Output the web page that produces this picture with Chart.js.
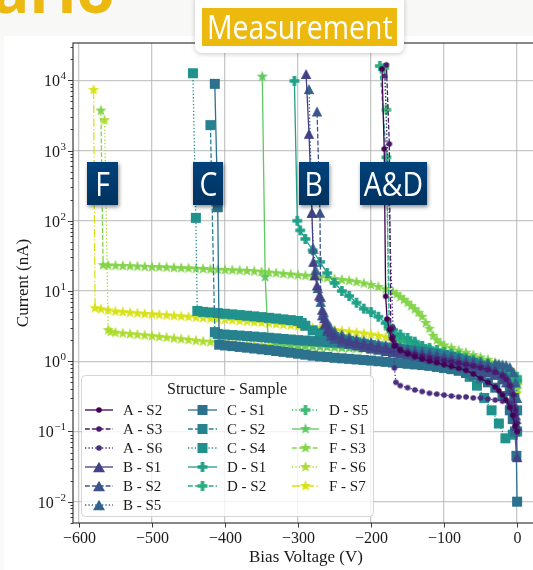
<!DOCTYPE html>
<html>
<head>
<meta charset="utf-8">
<title>Bias scan per structure</title>
<script src="https://cdn.jsdelivr.net/npm/chart.js@4.4.1/dist/chart.umd.min.js"></script>
<style>
  html, body { margin: 0; padding: 0; }
  body { width: 533px; height: 570px; overflow: hidden; background: #f8f8f6; position: relative; font-family: "Open Sans", sans-serif; }
  .title-frag { position: absolute; left: -8px; top: -42px; font-size: 62px; line-height: 62px; font-weight: 700; color: #ebb90f; white-space: nowrap; }
  .panel { position: absolute; left: 4px; top: 36px; width: 620px; height: 600px; background: #fff; }
  #ivChart { position: absolute; left: 0; top: 0; }
  .measure-card { position: absolute; left: 195px; top: -6px; width: 209px; height: 59px; background: #fff; border-radius: 7px; box-shadow: 0 1px 5px rgba(0,0,0,0.22); }
  .measure { position: absolute; left: 7px; top: 13.5px; width: 195px; height: 38px; background: #ecb90f; color: #fff; font-size: 33px; line-height: 38px; white-space: nowrap; display: flex; justify-content: center; }
  .tag { position: absolute; top: 162px; height: 43px; background: linear-gradient(#00427b, #00325f); color: #fff; font-size: 33px; line-height: 43px; box-shadow: 1px 2px 4px rgba(0,0,0,0.45); white-space: nowrap; display: flex; justify-content: center; }
  .squeeze { display: block; flex: none; transform: scaleX(0.86); }
</style>
</head>
<body>
<div class="title-frag">ario</div>
<div class="panel"></div>
<canvas id="ivChart" width="620" height="570"></canvas>
<div class="measure-card"><div class="measure"><span class="squeeze">Measurement</span></div></div>
<div class="tag" style="left:87px;width:31px"><span class="squeeze">F</span></div>
<div class="tag" style="left:193px;width:30px"><span class="squeeze">C</span></div>
<div class="tag" style="left:299px;width:30px"><span class="squeeze">B</span></div>
<div class="tag" style="left:360px;width:67px"><span class="squeeze">A&amp;D</span></div>
<script>
// [bias voltage (V), current (nA)], in measurement order from 0 V
const aS2 = [[0,0.1],[-3,0.12],[-6,0.17],[-10,0.22],[-15,0.28],[-20,0.33],[-25,0.38],[-30,0.43],[-40,0.5],[-50,0.57],[-60,0.66],[-70,0.74],[-80,0.79],[-90,0.84],[-100,0.89],[-110,0.95],[-120,1.0],[-130,1.07],[-140,1.16],[-150,1.27],[-160,1.42],[-168,1.65],[-172,2.1],[-175,2.8],[-178,4.0],[-180,8.4],[-182,1050],[-185,14500]];
const aS3 = [[0,0.13],[-2,0.2],[-5,0.33],[-10,0.45],[-15,0.55],[-20,0.62],[-30,0.7],[-40,0.76],[-50,0.81],[-60,0.86],[-70,0.9],[-80,0.94],[-90,0.98],[-100,1.02],[-110,1.07],[-120,1.12],[-130,1.18],[-140,1.25],[-150,1.34],[-160,1.48],[-166,1.7],[-170,2.2],[-173,2.9],[-175,1240],[-179,16600]];
const aS6 = [[0,0.1],[-2,0.17],[-5,0.22],[-10,0.25],[-20,0.27],[-30,0.28],[-40,0.29],[-50,0.3],[-60,0.3],[-70,0.31],[-80,0.31],[-90,0.32],[-100,0.33],[-110,0.34],[-120,0.35],[-130,0.37],[-140,0.39],[-150,0.42],[-160,0.45],[-166,0.5],[-168,0.8],[-169,1.9],[-170,3.0],[-181,11500]];
const bS1 = [[0,0.043],[-1,0.12],[-2,0.17],[-4,0.25],[-7,0.38],[-10,0.5],[-15,0.6],[-20,0.67],[-30,0.75],[-40,0.82],[-50,0.87],[-60,0.92],[-70,0.97],[-80,1.02],[-90,1.07],[-100,1.12],[-110,1.17],[-120,1.22],[-130,1.27],[-140,1.32],[-150,1.37],[-160,1.42],[-170,1.48],[-180,1.54],[-190,1.6],[-200,1.67],[-210,1.75],[-220,1.84],[-230,1.95],[-240,2.1],[-250,2.35],[-255,2.6],[-259,2.9],[-262,3.5],[-264,4.1],[-267,5.4],[-271,8.6],[-274,12],[-277,16.7],[-279,26],[-281,130],[-285,1730],[-289,12300]];
const bS2 = [[0,0.12],[-1,0.15],[-3,0.2],[-6,0.3],[-10,0.4],[-15,0.5],[-20,0.56],[-30,0.64],[-40,0.7],[-50,0.75],[-60,0.8],[-70,0.85],[-80,0.9],[-90,0.95],[-100,1.0],[-110,1.05],[-120,1.1],[-130,1.15],[-140,1.2],[-150,1.25],[-160,1.3],[-170,1.35],[-180,1.4],[-190,1.46],[-200,1.52],[-210,1.6],[-220,1.68],[-230,1.78],[-240,1.9],[-250,2.1],[-255,2.3],[-260,2.7],[-264,3.3],[-267,4.5],[-269,8.2],[-270,130],[-274,3600]];
const bS5 = [[0,0.3],[-2,0.5],[-5,0.7],[-10,0.83],[-15,0.88],[-20,0.9],[-25,0.92],[-30,0.93],[-40,0.95],[-50,0.98],[-60,1.02],[-70,1.07],[-80,1.12],[-90,1.17],[-100,1.22],[-110,1.28],[-120,1.34],[-130,1.4],[-140,1.46],[-150,1.52],[-160,1.58],[-170,1.65],[-180,1.72],[-190,1.8],[-200,1.88],[-210,1.97],[-220,2.08],[-230,2.22],[-240,2.4],[-250,2.7],[-256,3.1],[-261,3.8],[-265,5],[-269,7],[-273,11],[-276,20],[-279,40],[-281,130],[-285,7500]];
const cS1 = [[0,0.01],[-1,0.045],[-3,0.1],[-6,0.15],[-10,0.2],[-20,0.32],[-30,0.42],[-40,0.5],[-50,0.57],[-60,0.63],[-70,0.68],[-80,0.73],[-90,0.77],[-100,0.8],[-110,0.83],[-120,0.86],[-130,0.88],[-140,0.9],[-150,0.92],[-160,0.94],[-170,0.96],[-180,0.98],[-190,1.0],[-200,1.02],[-210,1.04],[-220,1.06],[-230,1.08],[-240,1.1],[-250,1.12],[-260,1.15],[-270,1.17],[-280,1.2],[-290,1.24],[-300,1.28],[-310,1.32],[-320,1.36],[-330,1.4],[-340,1.44],[-350,1.48],[-360,1.52],[-370,1.56],[-380,1.6],[-390,1.64],[-400,1.68],[-408,1.72],[-410,156],[-414,8900]];
const cS2 = [[0,0.2],[-4,0.3],[-10,0.4],[-20,0.55],[-30,0.68],[-40,0.78],[-50,0.86],[-60,0.95],[-70,1.02],[-80,1.1],[-90,1.16],[-100,1.22],[-110,1.27],[-120,1.32],[-130,1.37],[-140,1.41],[-150,1.45],[-160,1.49],[-170,1.53],[-180,1.57],[-190,1.61],[-200,1.65],[-210,1.69],[-220,1.73],[-230,1.77],[-240,1.8],[-250,1.84],[-260,1.87],[-270,1.9],[-280,1.94],[-290,1.97],[-300,2.0],[-310,2.04],[-320,2.08],[-330,2.12],[-340,2.16],[-350,2.2],[-360,2.24],[-370,2.28],[-380,2.32],[-390,2.36],[-400,2.4],[-410,2.45],[-414,2.6],[-420,2300]];
const cS4 = [[0,0.1],[-6,0.09],[-16,0.08],[-25,0.13],[-35,0.2],[-45,0.3],[-55,0.45],[-65,0.6],[-75,0.75],[-85,0.85],[-100,0.95],[-110,1.02],[-120,1.08],[-130,1.15],[-140,1.22],[-150,1.3],[-160,1.38],[-170,1.46],[-180,1.54],[-190,1.62],[-200,1.7],[-210,1.78],[-220,1.86],[-230,1.95],[-240,2.05],[-250,2.18],[-260,2.32],[-270,2.5],[-280,2.75],[-290,3.2],[-295,3.5],[-300,3.75],[-310,3.85],[-320,3.95],[-330,4.05],[-340,4.15],[-350,4.25],[-360,4.35],[-370,4.45],[-380,4.55],[-390,4.65],[-400,4.75],[-410,4.85],[-420,4.95],[-430,5.05],[-438,5.2],[-440,110],[-444,12600]];
const dS1 = [[0,0.54],[-10,0.62],[-20,0.68],[-30,0.76],[-40,0.84],[-50,0.9],[-60,0.97],[-70,1.04],[-80,1.1],[-90,1.18],[-100,1.25],[-110,1.32],[-120,1.45],[-130,1.65],[-140,1.9],[-150,2.15],[-160,2.4],[-170,2.8],[-180,3.5],[-190,4.3],[-200,5.0],[-210,5.6],[-220,6.8],[-230,8.5],[-240,10],[-250,13],[-260,18],[-270,26],[-280,38],[-290,55],[-297,73],[-301,100],[-305,9800]];
const dS2 = [[0,0.6],[-10,0.7],[-20,0.78],[-30,0.85],[-40,0.92],[-50,0.98],[-60,1.05],[-70,1.12],[-80,1.2],[-90,1.28],[-100,1.36],[-110,1.45],[-120,1.55],[-130,1.65],[-140,1.78],[-150,1.92],[-160,2.1],[-170,2.45],[-175,3.2],[-179,800],[-188,16000]];
const dS5 = [[0,0.5],[-10,0.66],[-20,0.75],[-30,0.82],[-40,0.88],[-50,0.94],[-60,1.0],[-70,1.07],[-80,1.14],[-90,1.22],[-100,1.3],[-110,1.38],[-120,1.47],[-130,1.57],[-140,1.68],[-150,1.8],[-160,1.97],[-170,2.3],[-176,2.9],[-179,3800],[-182,15000]];
const fS1 = [[0,0.5],[-10,0.62],[-20,0.72],[-30,0.8],[-40,0.86],[-50,0.92],[-60,0.97],[-70,1.02],[-80,1.07],[-90,1.11],[-100,1.15],[-110,1.19],[-120,1.23],[-130,1.27],[-140,1.3],[-150,1.33],[-160,1.36],[-170,1.39],[-180,1.42],[-190,1.45],[-200,1.47],[-210,1.5],[-220,1.52],[-230,1.54],[-240,1.56],[-250,1.58],[-260,1.6],[-270,1.62],[-280,1.64],[-290,1.66],[-300,1.68],[-310,1.7],[-320,1.72],[-330,1.75],[-341,2.1],[-345,15.8],[-349,11300]];
const fS3 = [[0,0.4],[-5,0.6],[-10,0.72],[-20,0.85],[-30,0.95],[-40,1.05],[-50,1.13],[-60,1.22],[-70,1.32],[-80,1.42],[-90,1.55],[-100,1.68],[-105,1.8],[-110,2.0],[-115,2.3],[-120,2.9],[-125,3.5],[-130,4.3],[-135,4.9],[-140,5.5],[-145,6.1],[-150,6.8],[-155,7.5],[-160,8.2],[-165,9.0],[-170,9.7],[-180,10.6],[-190,11.4],[-200,12.2],[-210,12.8],[-220,13.4],[-230,14],[-240,14.4],[-250,14.8],[-260,15.3],[-270,15.8],[-280,16.2],[-290,16.5],[-300,16.8],[-310,17.2],[-320,17.5],[-330,17.9],[-340,18.3],[-350,18.7],[-360,19],[-370,19.3],[-380,19.5],[-390,19.7],[-400,19.9],[-410,20.1],[-420,20.3],[-430,20.6],[-440,20.8],[-450,21],[-460,21.2],[-470,21.4],[-480,21.6],[-490,21.8],[-500,21.9],[-510,22.1],[-520,22.3],[-530,22.5],[-540,22.7],[-550,22.9],[-560,23.1],[-567,23.3],[-570,3700]];
const fS6 = [[0,0.45],[-5,0.65],[-10,0.75],[-20,0.85],[-30,0.92],[-40,0.98],[-50,1.03],[-60,1.08],[-70,1.12],[-80,1.16],[-90,1.2],[-100,1.23],[-110,1.26],[-120,1.29],[-130,1.32],[-140,1.35],[-150,1.38],[-160,1.4],[-170,1.43],[-180,1.45],[-190,1.47],[-200,1.49],[-210,1.51],[-220,1.53],[-230,1.55],[-240,1.56],[-250,1.58],[-260,1.59],[-270,1.6],[-280,1.61],[-290,1.62],[-300,1.63],[-310,1.64],[-320,1.65],[-330,1.66],[-340,1.67],[-350,1.68],[-360,1.7],[-370,1.72],[-380,1.74],[-390,1.77],[-400,1.8],[-410,1.83],[-420,1.87],[-430,1.91],[-440,1.96],[-450,2.01],[-460,2.06],[-470,2.11],[-480,2.17],[-490,2.22],[-500,2.28],[-510,2.33],[-520,2.38],[-530,2.43],[-540,2.49],[-550,2.55],[-557,2.62],[-560,2.78],[-565,2700]];
const fS7 = [[0,0.35],[-5,0.45],[-10,0.55],[-20,0.66],[-30,0.74],[-40,0.8],[-50,0.86],[-60,0.92],[-70,0.98],[-80,1.05],[-90,1.12],[-100,1.2],[-110,1.3],[-120,1.4],[-130,1.5],[-140,1.65],[-150,1.8],[-160,1.95],[-170,2.1],[-180,2.2],[-190,2.3],[-200,2.4],[-210,2.48],[-220,2.55],[-230,2.63],[-240,2.7],[-250,2.78],[-260,2.85],[-270,2.93],[-280,3.0],[-290,3.08],[-300,3.15],[-310,3.23],[-320,3.3],[-330,3.38],[-340,3.45],[-350,3.53],[-360,3.6],[-370,3.68],[-380,3.75],[-390,3.83],[-400,3.9],[-410,3.98],[-420,4.05],[-430,4.13],[-440,4.2],[-450,4.28],[-460,4.35],[-470,4.43],[-480,4.5],[-490,4.58],[-500,4.65],[-510,4.72],[-520,4.8],[-530,4.9],[-540,5.0],[-550,5.1],[-560,5.3],[-570,5.5],[-578,5.7],[-580,7300]];

const seriesNames = ["A - S2", "A - S3", "A - S6", "B - S1", "B - S2", "B - S5", "C - S1", "C - S2", "C - S4", "D - S1", "D - S2", "D - S5", "F - S1", "F - S3", "F - S6", "F - S7"];
const seriesData = [aS2, aS3, aS6, bS1, bS2, bS5, cS1, cS2, cS4, dS1, dS2, dS5, fS1, fS3, fS6, fS7];
const xTicks = [-600, -500, -400, -300, -200, -100, 0];
const yDecades = [-2, -1, 0, 1, 2, 3, 4];

// viridis, 16 steps
const seriesColors = ["#440154", "#48186a", "#472d7b", "#424086", "#3b528b", "#33638d", "#2c728e", "#26828e",
  "#21918c", "#1fa088", "#28ae80", "#3fbc73", "#5ec962", "#84d44b", "#addc30", "#d8e219"];
const seriesLine = ["solid", "dashed", "dotted", "solid", "dashed", "dotted", "solid", "dashed", "dotted",
  "solid", "dashed", "dotted", "solid", "dashed", "dotted", "dashdot"];
const structureMarker = { A: "circle", B: "triangle", C: "square", D: "plus", F: "star" };
const dashStyles = { solid: [], dashed: [4.8, 2.1], dotted: [1.3, 2.1], dashdot: [8.3, 2.1, 1.3, 2.1] };

const serif = '"Liberation Serif", "DejaVu Serif", serif';
const inkColor = "#1a1a1a";

// filled matplotlib-like markers as small canvases
function makeMarker(shape, color, big) {
  const c = document.createElement("canvas");
  c.width = 14; c.height = 14;
  const g = c.getContext("2d");
  const m = 7;
  g.fillStyle = color;
  g.beginPath();
  if (shape === "circle") {
    g.arc(m, m, 2.8, 0, Math.PI * 2);
  } else if (shape === "triangle") {
    const hw = big ? 6 : 5.2, hh = big ? 5.2 : 5;
    g.moveTo(m, m - hh); g.lineTo(m + hw, m + hh); g.lineTo(m - hw, m + hh); g.closePath();
  } else if (shape === "square") {
    g.rect(m - 5, m - 5, 10, 10);
  } else if (shape === "plus") {
    const a = 4.9, b = 1.8;
    const pts = [[-b, -a], [b, -a], [b, -b], [a, -b], [a, b], [b, b], [b, a], [-b, a], [-b, b], [-a, b], [-a, -b], [-b, -b]];
    pts.forEach(([dx, dy], k) => (k ? g.lineTo(m + dx, m + dy) : g.moveTo(m + dx, m + dy)));
    g.closePath();
  } else {
    for (let k = 0; k < 10; k++) {
      const r = k % 2 ? 2.4 : 6;
      const ang = -Math.PI / 2 + (k * Math.PI) / 5;
      g.lineTo(m + r * Math.cos(ang), m + r * Math.sin(ang));
    }
    g.closePath();
  }
  g.fill();
  return c;
}

const plotMarkers = seriesNames.map((n, i) => makeMarker(structureMarker[n[0]], seriesColors[i], false));
const legendMarkers = seriesNames.map((n, i) => makeMarker(structureMarker[n[0]], seriesColors[i], true));

// spines, ticks, tick labels and axis titles in matplotlib style
const axesPlugin = {
  id: "mplAxes",
  afterDatasetsDraw(chart) {
    const { ctx, chartArea: a, scales: { x, y } } = chart;
    ctx.save();
    ctx.strokeStyle = "#3a3a3a";
    ctx.lineWidth = 1.2;
    ctx.strokeRect(a.left, a.top, a.right - a.left, a.bottom - a.top);

    ctx.lineWidth = 1;
    ctx.fillStyle = inkColor;
    ctx.textBaseline = "alphabetic";

    // x ticks
    ctx.font = "16px " + serif;
    ctx.textAlign = "center";
    xTicks.forEach((v) => {
      const px = Math.round(x.getPixelForValue(v)) + 0.5;
      ctx.beginPath(); ctx.moveTo(px, a.bottom); ctx.lineTo(px, a.bottom + 4.5); ctx.stroke();
      ctx.fillText(v < 0 ? "\u2212" + Math.abs(v) : String(v), px, a.bottom + 20);
    });

    // y minor ticks
    for (let e = -3; e <= 4; e++) {
      for (let k = 2; k <= 9; k++) {
        const v = k * Math.pow(10, e);
        if (v < y.min || v > y.max) continue;
        const py = Math.round(y.getPixelForValue(v)) + 0.5;
        ctx.beginPath(); ctx.moveTo(a.left - 2.5, py); ctx.lineTo(a.left, py); ctx.stroke();
      }
    }
    // y major ticks with 10^n labels
    ctx.textAlign = "right";
    yDecades.forEach((e) => {
      const py = Math.round(y.getPixelForValue(Math.pow(10, e))) + 0.5;
      ctx.beginPath(); ctx.moveTo(a.left - 5, py); ctx.lineTo(a.left, py); ctx.stroke();
      const expText = e < 0 ? "\u2212" + -e : String(e);
      ctx.font = "11px " + serif;
      const ew = ctx.measureText(expText).width;
      ctx.fillText(expText, a.left - 7, py - 1.5);
      ctx.font = "16px " + serif;
      ctx.fillText("10", a.left - 7.5 - ew, py + 5.5);
    });

    // axis titles
    ctx.font = "17px " + serif;
    ctx.textAlign = "center";
    ctx.fillText("Bias Voltage (V)", (a.left + a.right) / 2, 562);
    ctx.translate(28, (a.top + a.bottom) / 2);
    ctx.rotate(-Math.PI / 2);
    ctx.fillText("Current (nA)", 0, 0);
    ctx.restore();
  },
};

// three-column legend box inside the axes
const legendPlugin = {
  id: "structureLegend",
  afterDraw(chart) {
    const ctx = chart.ctx;
    ctx.save();
    ctx.beginPath();
    ctx.roundRect(81.5, 375.5, 292, 141, 4);
    ctx.fillStyle = "rgba(255,255,255,0.8)";
    ctx.fill();
    ctx.strokeStyle = "rgba(204,204,204,0.8)";
    ctx.lineWidth = 1;
    ctx.stroke();

    ctx.fillStyle = inkColor;
    ctx.textBaseline = "alphabetic";
    ctx.textAlign = "center";
    ctx.font = "16px " + serif;
    ctx.fillText("Structure - Sample", 227, 394);

    const handles = [[85, 113, 123], [188, 217, 227], [292, 319, 329]];
    ctx.textAlign = "left";
    ctx.font = "15px " + serif;
    seriesNames.forEach((name, i) => {
      const col = i < 6 ? 0 : i < 11 ? 1 : 2;
      const row = col === 0 ? i : col === 1 ? i - 6 : i - 11;
      const cy = 410 + row * 19;
      const [h0, h1, tx] = handles[col];
      ctx.save();
      ctx.strokeStyle = seriesColors[i];
      ctx.lineWidth = 1.3;
      ctx.setLineDash(dashStyles[seriesLine[i]]);
      ctx.beginPath(); ctx.moveTo(h0, cy); ctx.lineTo(h1, cy); ctx.stroke();
      ctx.restore();
      const mk = legendMarkers[i];
      ctx.drawImage(mk, (h0 + h1) / 2 - mk.width / 2, cy - mk.height / 2);
      ctx.fillText(name, tx, cy + 5);
    });
    ctx.restore();
  },
};

const gridColor = "rgba(176,176,176,0.7)";

new Chart(document.getElementById("ivChart"), {
  type: "scatter",
  data: {
    datasets: seriesData.map((pts, i) => ({
      label: seriesNames[i],
      data: pts.map(([v, c]) => ({ x: v, y: c })),
      showLine: true,
      borderColor: seriesColors[i],
      backgroundColor: seriesColors[i],
      borderWidth: 1.3,
      borderDash: dashStyles[seriesLine[i]],
      pointStyle: plotMarkers[i],
      pointRadius: 4,
      pointHoverRadius: 4,
      tension: 0,
    })),
  },
  options: {
    responsive: false,
    animation: false,
    events: [],
    layout: { padding: { left: 73, top: 43, right: 81, bottom: 47 } },
    plugins: { legend: { display: false }, tooltip: { enabled: false } },
    scales: {
      x: {
        type: "linear",
        min: -608.2,
        max: 30,
        afterBuildTicks: (s) => { s.ticks = xTicks.map((v) => ({ value: v })); },
        ticks: { display: false },
        grid: { drawTicks: false, color: gridColor, lineWidth: 1.3 },
        border: { display: false },
      },
      y: {
        type: "logarithmic",
        min: 0.00497,
        max: 33960,
        afterBuildTicks: (s) => { s.ticks = yDecades.map((e) => ({ value: Math.pow(10, e) })); },
        ticks: { display: false },
        grid: { drawTicks: false, color: gridColor, lineWidth: 1.3 },
        border: { display: false },
      },
    },
  },
  plugins: [axesPlugin, legendPlugin],
});
</script>
</body>
</html>
